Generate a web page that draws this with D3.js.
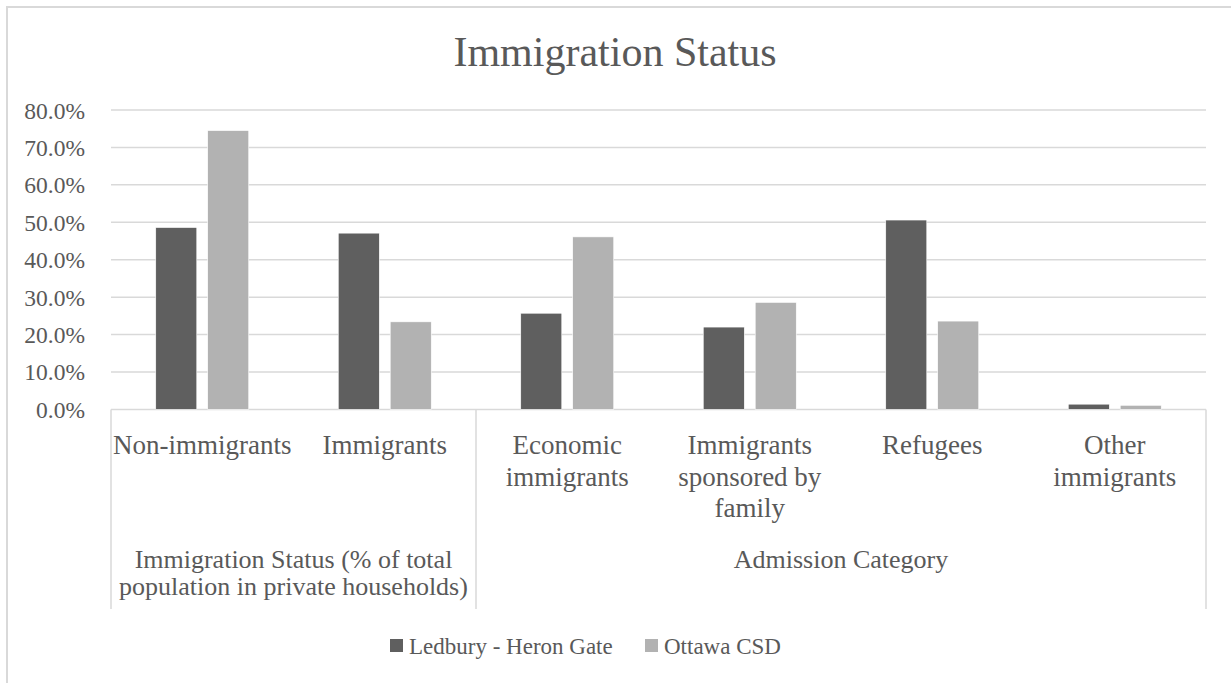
<!DOCTYPE html>
<html>
<head>
<meta charset="utf-8">
<script src="https://cdn.jsdelivr.net/npm/d3@7"></script>
<style>
  html, body { margin: 0; padding: 0; background: #fff; }
  svg { display: block; }
  text { font-family: "Liberation Serif", "Times New Roman", serif; fill: #595959; }
</style>
</head>
<body>
<svg id="chart" width="1231" height="683"></svg>
<script>
// Chart data
const categories = ["Non-immigrants", "Immigrants", "Economic immigrants",
  "Immigrants sponsored by family", "Refugees", "Other immigrants"];
const categoryLines = [["Non-immigrants"], ["Immigrants"], ["Economic", "immigrants"],
  ["Immigrants", "sponsored by", "family"], ["Refugees"], ["Other", "immigrants"]];
const groups = ["Immigration Status (% of total population in private households)", "Admission Category"];
const groupLines = [["Immigration Status (% of total", "population in private households)"], ["Admission Category"]];
const groupSizes = [2, 4];
const series = ["Ledbury - Heron Gate", "Ottawa CSD"];
const ledbury = [0.486, 0.471, 0.257, 0.220, 0.506, 0.014];
const ottawa = [0.745, 0.234, 0.461, 0.286, 0.236, 0.011];
const yTicks = [0, 0.1, 0.2, 0.3, 0.4, 0.5, 0.6, 0.7, 0.8];
const colors = ["#5f5f5f", "#b2b2b2"];

const svg = d3.select("#chart");
const plotLeft = 111, plotRight = 1206, plotTop = 110, plotBottom = 409.4;

// Outer frame (left and top edges)
svg.append("path")
  .attr("d", "M7,683 V7 H1231")
  .attr("fill", "none").attr("stroke", "#d9d9d9").attr("stroke-width", 2);

// Title
svg.append("text")
  .attr("x", 615).attr("y", 66)
  .attr("text-anchor", "middle")
  .style("font-size", "42px")
  .text("Immigration Status");

const x0 = d3.scaleBand().domain(categories).range([plotLeft, plotRight]).padding(0);
const half = x0.bandwidth() / 2;
const x1 = d3.scaleBand().domain(series).range([half - 46.5, half + 46.5]).paddingInner(0.21);
const y = d3.scaleLinear().domain([0, 0.8]).range([plotBottom, plotTop]);

// Gridlines
svg.append("g").selectAll("line").data(yTicks).join("line")
  .attr("x1", plotLeft).attr("x2", plotRight)
  .attr("y1", d => y(d)).attr("y2", d => y(d))
  .attr("stroke", "#d9d9d9").attr("stroke-width", 1.5);

// Y axis labels
const yAxis = d3.axisLeft(y).tickValues(yTicks).tickFormat(d3.format(".1%")).tickSize(0).tickPadding(0);
const gy = svg.append("g").attr("transform", "translate(85,0)").call(yAxis);
gy.select(".domain").remove();
gy.selectAll("text").style("font-size", "23.5px").style("font-family", "Liberation Serif, serif").attr("fill", "#595959").attr("dy", "0.34em");

// Bars
const rows = categories.map((c, i) => ({ cat: c, vals: [ledbury[i], ottawa[i]] }));
const cat = svg.append("g").selectAll("g").data(rows).join("g")
  .attr("transform", d => `translate(${x0(d.cat)},0)`);
cat.selectAll("rect").data(d => d.vals.map((v, j) => ({ s: series[j], v, j }))).join("rect")
  .attr("x", d => x1(d.s))
  .attr("width", x1.bandwidth())
  .attr("y", d => y(d.v))
  .attr("height", d => y(0) - y(d.v))
  .attr("fill", d => colors[d.j])
  .attr("stroke", "#ffffff").attr("stroke-width", 0.6);

// Category axis: separators
const axisG = svg.append("g");
let cum = 0;
const seps = [0];
groupSizes.forEach(n => { cum += n; seps.push(cum); });
const sepX = k => k === categories.length ? plotRight : x0(categories[k]);
axisG.selectAll("line.sep").data(seps).join("line")
  .attr("class", "sep")
  .attr("x1", sepX).attr("x2", sepX)
  .attr("y1", plotBottom).attr("y2", 609)
  .attr("stroke", "#d9d9d9").attr("stroke-width", 1.5);

// Category labels
axisG.selectAll("text.cat").data(categories).join("text")
  .attr("class", "cat")
  .attr("text-anchor", "middle")
  .attr("x", d => x0(d) + half)
  .attr("y", 454)
  .style("font-size", "27px")
  .each(function(d, i) {
    d3.select(this).selectAll("tspan").data(categoryLines[i]).join("tspan")
      .attr("x", x0(d) + half)
      .attr("dy", (t, k) => k === 0 ? 0 : 31.5)
      .text(t => t);
  });

// Group labels
axisG.selectAll("text.grp").data(groups).join("text")
  .attr("class", "grp")
  .attr("text-anchor", "middle")
  .attr("y", 568)
  .style("font-size", "26px")
  .each(function(d, i) {
    const cx = (sepX(seps[i]) + sepX(seps[i + 1])) / 2;
    d3.select(this).selectAll("tspan").data(groupLines[i]).join("tspan")
      .attr("x", cx)
      .attr("dy", (t, k) => k === 0 ? 0 : 27)
      .text(t => t);
  });

// Legend
const legendX = [390, 645];
const lg = svg.append("g").selectAll("g").data(series).join("g")
  .attr("transform", (d, i) => `translate(${legendX[i]},639)`);
lg.append("rect").attr("width", 13).attr("height", 13).attr("fill", (d, i) => colors[i]);
lg.append("text").attr("x", 19).attr("y", 15).style("font-size", "23px").text(d => d);
</script>
</body>
</html>
